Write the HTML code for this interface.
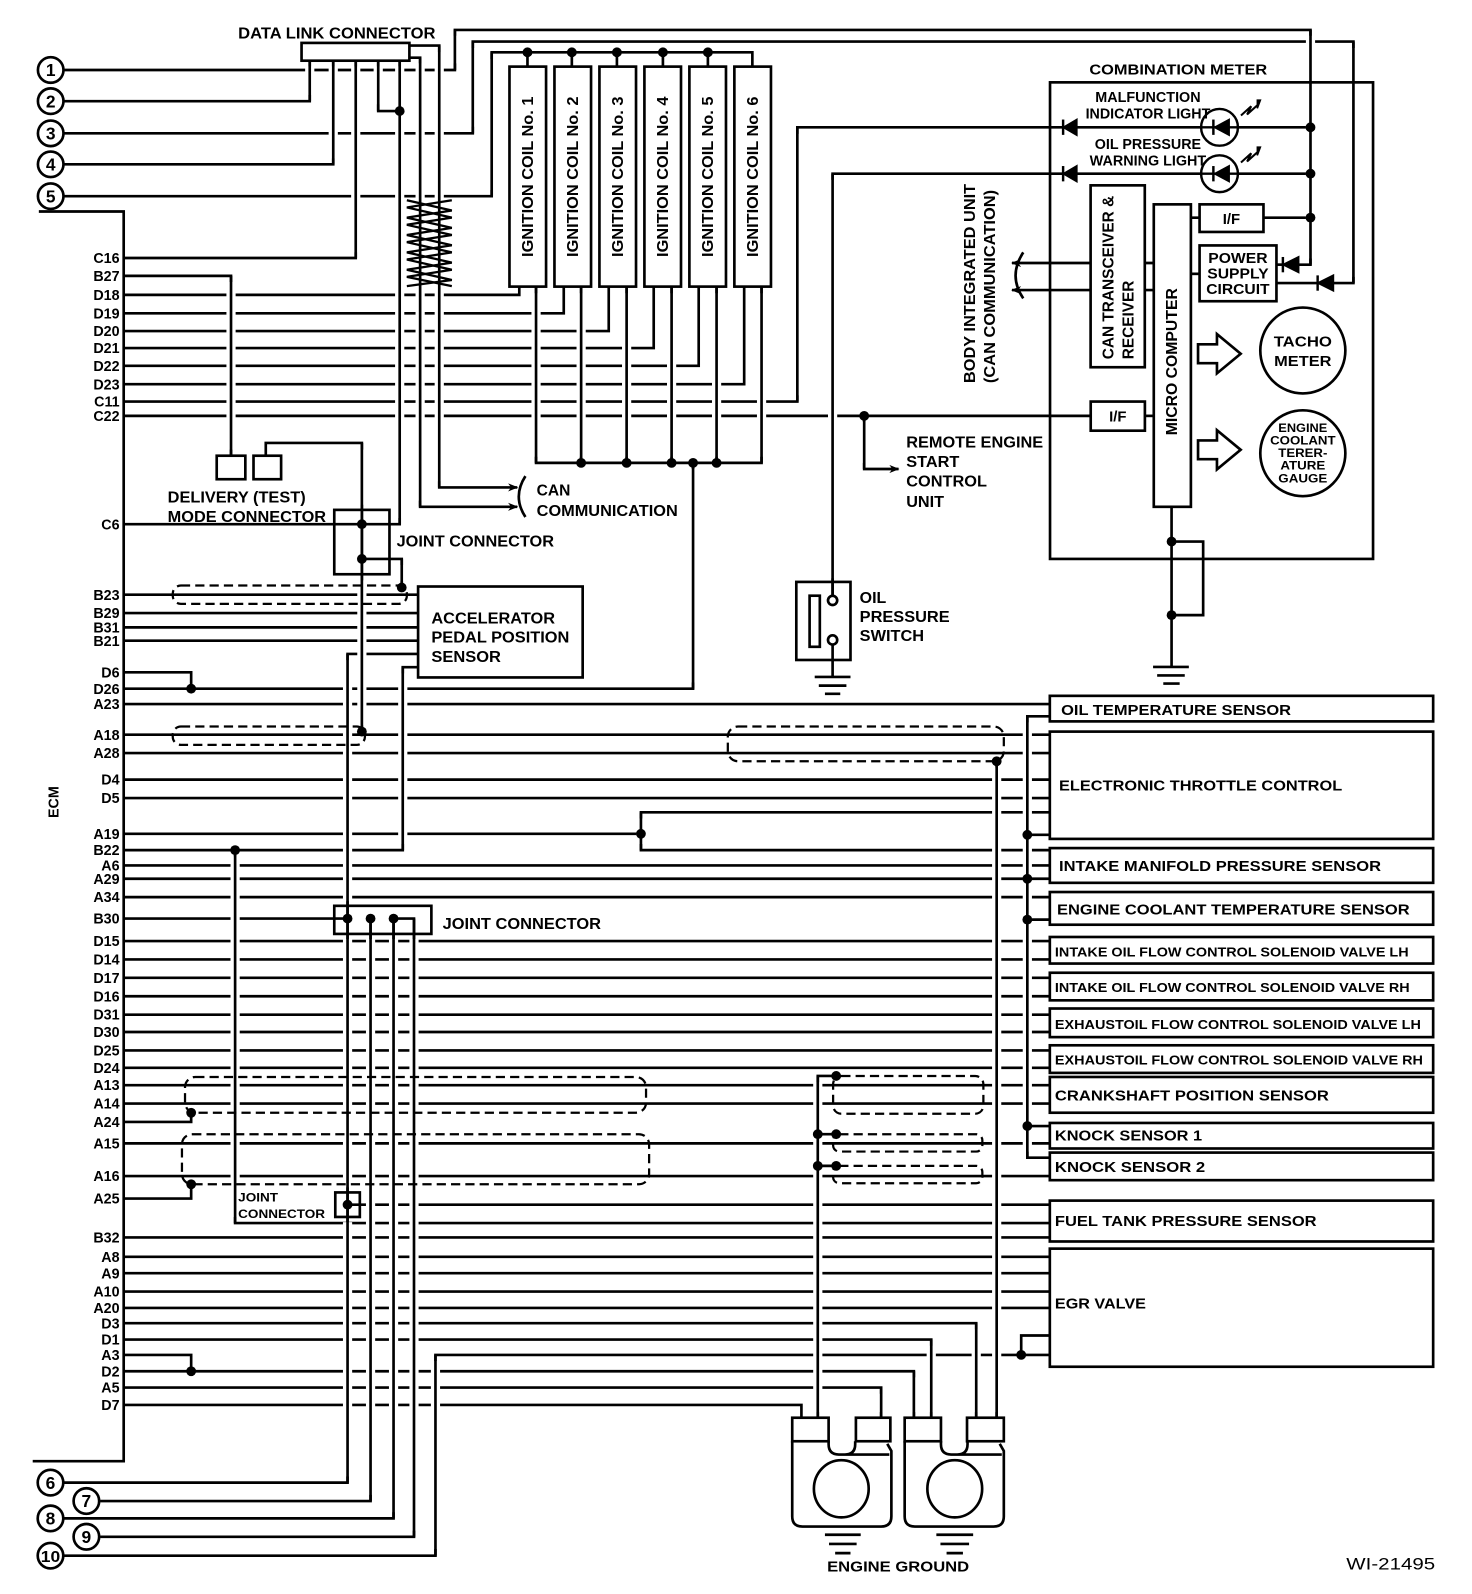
<!DOCTYPE html>
<html><head><meta charset="utf-8"><style>
html,body{margin:0;padding:0;background:#fff;}
svg{display:block;}
text{font-family:"Liberation Sans",Arial,sans-serif;font-weight:bold;fill:#000;}
</style></head><body>
<svg width="1472" height="1594" viewBox="0 0 1440 1560" preserveAspectRatio="none" xmlns="http://www.w3.org/2000/svg">
<rect x="0" y="0" width="1440" height="1560" fill="#fff"/>
<defs>
<marker id="ar" markerWidth="10" markerHeight="8" refX="9" refY="4" orient="auto" markerUnits="userSpaceOnUse"><path d="M0,0 L10,4 L0,8 L3,4 Z" fill="#000"/></marker>
</defs>

<g fill="none" stroke="#000" stroke-width="2.6" stroke-linejoin="miter">
<path d="M38,207 H121 V1430 H32"/>
<path d="M63,68.5 H445 V29.3 H1282 V259 H1270"/>
<path d="M1254.7,259 H1249"/>
<path d="M63,99 H303 V59"/>
<path d="M63,130.5 H462.5 V40.7 H1324 V277 H1304"/>
<path d="M1288.3,277 H1249"/>
<path d="M63,160.8 H326 V59"/>
<path d="M63,192 H481 V51.2 H736 V65"/>
<path d="M516,51.2V65 M559.4,51.2V65 M603.5,51.2V65 M648.5,51.2V65 M692.5,51.2V65"/>
<path d="M370,59 V108.7 H391"/>
<path d="M400.5,44.6 H429.7 V477 H506" marker-end="url(#ar)"/>
<path d="M400.5,56.5 H411 V496 H506" marker-end="url(#ar)"/>
<path d="M121,252.5 H348 V59"/>
<path d="M121,270 H226 V446"/>
<path d="M121,288.6 H508 V280.5"/>
<path d="M121,306.6 H551.5 V280.5"/>
<path d="M121,324 H595.5 V280.5"/>
<path d="M121,340.6 H639.5 V280.5"/>
<path d="M121,358 H683.5 V280.5"/>
<path d="M121,376 H728 V280.5"/>
<path d="M121,393 H780 V124.6 H1040"/>
<path d="M121,407 H1067"/>
<path d="M121,513 H391 V59"/>
<path d="M121,582 H409 M121,600 H409 M121,614 H409 M121,627 H409"/>
<path d="M354,547 H393 V575"/>
<path d="M260,446 V433.5 H354 V716"/>
<path d="M121,658 H187 V674"/>
<path d="M121,674 H678 V453"/>
<path d="M121,689 H1027 M121,719 H1027 M121,737 H1027 M121,763 H1027 M121,781 H1027"/>
<path d="M121,816 H627 M1027,795 H627 V832 H1027"/>
<path d="M121,832 H394 V653 H409"/>
<path d="M230,832 V1197 H1027"/>
<path d="M121,847 H1027 M121,860 H1027 M121,878 H1027"/>
<path d="M121,899 H340"/>
<path d="M121,921 H1027 M121,939 H1027 M121,957 H1027 M121,975 H1027 M121,993 H1027 M121,1010 H1027 M121,1028 H1027 M121,1045 H1027 M121,1062 H1027 M121,1080 H1027"/>
<path d="M121,1098 H187 V1089"/>
<path d="M121,1119 H1027 M121,1151 H1027"/>
<path d="M121,1173 H187 V1159"/>
<path d="M121,1211 H1027 M121,1230 H1027 M121,1246 H1027 M121,1264 H1027 M121,1280 H1027"/>
<path d="M121,1295 H955 V1388"/>
<path d="M121,1311 H911 V1388"/>
<path d="M121,1326 H187 V1342"/>
<path d="M121,1342 H894 V1388"/>
<path d="M121,1358 H862 V1388"/>
<path d="M121,1375 H784 V1388"/>
<path d="M63,1451 H340 V640 H409"/>
<path d="M98,1469 H362.5 V899"/>
<path d="M63,1486 H385 V899"/>
<path d="M98,1504 H405 V899 H385"/>
<path d="M63,1522.5 H426 V1326 H1027"/>
<path d="M999,1326 V1307 H1027"/>
<path d="M340,1179 H1027"/>
<path d="M524.4,280.5 V453 H745 V280.5 M568.5,280.5V453 M613,280.5V453 M657,280.5V453 M701,280.5V453"/>
<path d="M814.5,583 V170 H1040"/>
<path d="M814.5,631 V662"/>
<path d="M845.4,407 V459 H879" marker-end="url(#ar)"/>
<path d="M1053,124.6 H1175 M1211,124.6 H1282"/>
<path d="M1053,170 H1175 M1211,170 H1282"/>
<path d="M1236,213 H1282 M1165,213 H1173.5"/>
<path d="M1165,268 H1173.5"/>
<path d="M1119.9,257.4 H1128.7 M1119.9,283.9 H1128.7"/>
<path d="M1066.9,257.4 H990" marker-end="url(#ar)"/>
<path d="M1066.9,283.9 H990" marker-end="url(#ar)"/>
<path d="M1120,407 H1128.7"/>
<path d="M1146.1,496 V652.7 M1146.1,530 H1177 V602 H1146.1"/>
<path d="M1027,701 H1005 V1133 H1027 M1005,817 H1027 M1005,900 H1027 M1005,1102 H1027"/>
<path d="M975,745 V1388"/>
<path d="M800,1388 V1053 H818"/>
<path d="M800,1110 H818 M800,1141 H818"/>
</g>

<g fill="none" stroke="#fff" stroke-width="9">
<path d="M303,65V93 M326,65V155 M348,65V247 M370,65V102 M391,65V507 M411,62V490 M429.7,51V471 M445,35V62 M462.5,47V124 M481,58V186 M226,276V440 M524.4,287V447 M568.5,287V447 M613,287V447 M657,287V447 M701,287V447 M745,287V447 M780,131V387 M678,459V668 M814.5,176V566 M845.4,413V453 M1282,35V253 M1324,47V271 M354,440V494 M354,568V710 M340,646V882 M340,919V1162 M340,1196V1445 M362.5,919V1463 M385,919V1480 M405,919V1498 M426,1332V1516 M394,659V826 M393,553V569 M230,838V1191 M627,801V826 M1005,707V1127 M975,751V1382 M800,1059V1382 M955,1301V1382 M911,1317V1382 M894,1348V1382 M862,1364V1382"/>
</g>
<g fill="none" stroke="#000" stroke-width="2.6">
<path d="M303,59V99 M326,59V160.8 M348,59V252.5 M370,59V108.7 M391,59V513 M411,56.5V496 M429.7,44.6V477 M445,29.3V68.5 M462.5,40.7V130.5 M481,51.2V192 M226,270V446 M524.4,280.5V453 M568.5,280.5V453 M613,280.5V453 M657,280.5V453 M701,280.5V453 M745,280.5V453 M780,124.6V393 M678,453V674 M814.5,170V583 M845.4,407V459 M1282,29.3V259 M1324,40.7V277 M354,433.5V716 M340,640V1451 M362.5,899V1469 M385,899V1486 M405,899V1504 M426,1326V1522.5 M394,653V832 M393,547V575 M230,832V1197 M627,795V832 M1005,701V1133 M975,745V1388 M800,1053V1388 M955,1295V1388 M911,1311V1388 M894,1342V1388 M862,1358V1388"/>
</g>

<g fill="none" stroke="#000" stroke-width="2.6">
<rect x="295" y="42" width="105.5" height="17.4" fill="#fff"/>
<rect x="498.4" y="65.2" width="35.8" height="215.3" fill="#fff"/>
<rect x="542.4" y="65.2" width="35.8" height="215.3" fill="#fff"/>
<rect x="586.4" y="65.2" width="35.8" height="215.3" fill="#fff"/>
<rect x="630.4" y="65.2" width="35.8" height="215.3" fill="#fff"/>
<rect x="674.4" y="65.2" width="35.8" height="215.3" fill="#fff"/>
<rect x="718.4" y="65.2" width="35.8" height="215.3" fill="#fff"/>
<rect x="212" y="446" width="28" height="23" fill="#fff"/>
<rect x="248" y="446" width="27" height="23" fill="#fff"/>
<rect x="327" y="499" width="54" height="63"/>
<rect x="409" y="574" width="161" height="89" fill="#fff"/>
<rect x="327" y="886.5" width="95" height="27.5"/>
<rect x="328" y="1167" width="24" height="24"/>
<rect x="1027.2" y="80.6" width="316" height="466.4"/>
<rect x="1066.9" y="181.4" width="53" height="178" fill="#fff"/>
<rect x="1128.7" y="200" width="36.3" height="296" fill="#fff"/>
<rect x="1173.5" y="200" width="62.5" height="27" fill="#fff"/>
<rect x="1173.5" y="240.2" width="75.2" height="54.6" fill="#fff"/>
<rect x="1067" y="393" width="53" height="28.5" fill="#fff"/>
<ellipse cx="1274.5" cy="343" rx="41.6" ry="42"/>
<ellipse cx="1274.5" cy="443.6" rx="41.6" ry="42"/>
<path d="M1172,337 H1190.5 V327 L1213.7,346.2 L1190.5,365.4 V355.4 H1172 Z"/>
<path d="M1172,431 H1190.5 V421 L1213.7,440.2 L1190.5,459.4 V449.4 H1172 Z"/>
<rect x="779" y="569.5" width="53" height="76.4"/>
<rect x="792" y="583" width="10" height="50"/>
<circle cx="814.5" cy="587.6" r="4.5" fill="#fff"/>
<circle cx="814.5" cy="626.3" r="4.5" fill="#fff"/>
<rect x="1027" y="681" width="375" height="25"/>
<rect x="1027" y="716" width="375" height="105"/>
<rect x="1027" y="830" width="375" height="34"/>
<rect x="1027" y="873" width="375" height="32"/>
<rect x="1027" y="917" width="375" height="26"/>
<rect x="1027" y="952" width="375" height="27"/>
<rect x="1027" y="987" width="375" height="28"/>
<rect x="1027" y="1023" width="375" height="27"/>
<rect x="1027" y="1054" width="375" height="35"/>
<rect x="1027" y="1099" width="375" height="25"/>
<rect x="1027" y="1128" width="375" height="27"/>
<rect x="1027" y="1175" width="375" height="40"/>
<rect x="1027" y="1222" width="375" height="115.6"/>
<rect x="775" y="1387.5" width="35.6" height="23" fill="#fff"/>
<rect x="837.3" y="1387.5" width="33.7" height="23" fill="#fff"/>
<rect x="885" y="1387.5" width="35.5" height="23" fill="#fff"/>
<rect x="946" y="1387.5" width="36" height="23" fill="#fff"/>
<path d="M775,1410.5 V1484 Q775,1494 785,1494 H862 Q872,1494 872,1484 V1420 L868,1413"/>
<path d="M810.6,1410.5 v3 q0,10 10,10 h6 q10,0 10,-10 v-3 M826,1423.5 H870"/>
<ellipse cx="823" cy="1457" rx="26.8" ry="28"/>
<path d="M885,1410.5 V1484 Q885,1494 895,1494 H972 Q982,1494 982,1484 V1420 L978,1413"/>
<path d="M920.5,1410.5 v3 q0,10 10,10 h6 q10,0 10,-10 v-3 M936,1423.5 H980"/>
<ellipse cx="934" cy="1457" rx="26.8" ry="28"/>
<path d="M807,1502 H842 M811,1511 H838 M817,1520 H832"/>
<path d="M916,1502 H952 M920,1511 H948 M926,1520 H942"/>
<path d="M797,662.5 H832 M801,671 H828 M807,679 H822"/>
<path d="M1128,652.7 H1163 M1132,661 H1159 M1138,669 H1154"/>
<path d="M514,466 Q501,486 514,506"/>
<path d="M1001,247 Q986,270 1001,292"/>
<path d="M442,196 L398,203 L442,213 L398,220 L442,230 L398,237 L442,247 L398,254 L442,264 L398,271 L442,280" stroke-width="2.2"/>
<path d="M398,196 L442,206 L398,213 L442,223 L398,230 L442,240 L398,247 L442,257 L398,264 L442,274 L398,280" stroke-width="2.2"/>
</g>

<g fill="#000" stroke="#000" stroke-width="2.4">
<path d="M1053,117.6 L1041,124.6 L1053,131.6 Z"/><path d="M1040,117 V132" fill="none"/>
<path d="M1053,163 L1041,170 L1053,177 Z"/><path d="M1040,162.5 V177.5" fill="none"/>
<path d="M1270,252 L1256,259 L1270,266 Z"/><path d="M1255,251.5 V266.5" fill="none"/>
<path d="M1304,270 L1290,277 L1304,284 Z"/><path d="M1289,269.5 V284.5" fill="none"/>
<circle cx="1193" cy="124.6" r="18" fill="#fff"/>
<path d="M1202,117.6 L1189,124.6 L1202,131.6 Z"/><path d="M1187,117 V132" fill="none"/>
<path d="M1175,124.6 H1211" fill="none"/>
<circle cx="1193" cy="170" r="18" fill="#fff"/>
<path d="M1202,163 L1189,170 L1202,177 Z"/><path d="M1187,162.5 V177.5" fill="none"/>
<path d="M1175,170 H1211" fill="none"/>
<path d="M1214,113 L1224,104 L1220,112 L1230,103" fill="none" stroke-width="2"/>
<path d="M1230,98 L1233,98 L1230,106 Z" stroke-width="1.5"/>
<path d="M1214,159 L1224,150 L1220,158 L1230,149" fill="none" stroke-width="2"/>
<path d="M1230,144 L1233,144 L1230,152 Z" stroke-width="1.5"/>
</g>

<g fill="none" stroke="#000" stroke-width="2.2" stroke-dasharray="9,5">
<rect x="169" y="573" width="229" height="18" rx="8"/>
<rect x="169" y="711" width="188" height="18" rx="8"/>
<rect x="712" y="711" width="270" height="34" rx="10"/>
<rect x="181" y="1054" width="451" height="35" rx="10"/>
<rect x="178" y="1110" width="457" height="49" rx="10"/>
<rect x="815" y="1053" width="147" height="37" rx="8"/>
<rect x="815" y="1110" width="146" height="17" rx="6"/>
<rect x="815" y="1141" width="146" height="17" rx="6"/>
</g>

<g fill="#000">
<circle cx="391" cy="108.7" r="4.8"/><circle cx="354" cy="513" r="4.8"/><circle cx="354" cy="547" r="4.8"/>
<circle cx="393" cy="575" r="4.8"/><circle cx="354" cy="716" r="4.8"/><circle cx="187" cy="674" r="4.8"/>
<circle cx="627" cy="816" r="4.8"/><circle cx="230" cy="832" r="4.8"/><circle cx="187" cy="1089" r="4.8"/>
<circle cx="187" cy="1159" r="4.8"/><circle cx="187" cy="1342" r="4.8"/><circle cx="340" cy="899" r="4.8"/>
<circle cx="362.5" cy="899" r="4.8"/><circle cx="385" cy="899" r="4.8"/><circle cx="340" cy="1179" r="4.8"/>
<circle cx="516" cy="51.2" r="4.8"/><circle cx="559.4" cy="51.2" r="4.8"/><circle cx="603.5" cy="51.2" r="4.8"/>
<circle cx="648.5" cy="51.2" r="4.8"/><circle cx="692.5" cy="51.2" r="4.8"/>
<circle cx="568.5" cy="453" r="4.8"/><circle cx="613" cy="453" r="4.8"/><circle cx="657" cy="453" r="4.8"/>
<circle cx="678" cy="453" r="4.8"/><circle cx="701" cy="453" r="4.8"/><circle cx="845.4" cy="407" r="4.8"/>
<circle cx="1282" cy="124.6" r="4.8"/><circle cx="1282" cy="170" r="4.8"/><circle cx="1282" cy="213" r="4.8"/>
<circle cx="1146.1" cy="530" r="4.8"/><circle cx="1146.1" cy="602" r="4.8"/>
<circle cx="1005" cy="817" r="4.8"/><circle cx="1005" cy="860" r="4.8"/><circle cx="1005" cy="900" r="4.8"/>
<circle cx="1005" cy="1102" r="4.8"/><circle cx="975" cy="745" r="4.8"/><circle cx="818" cy="1053" r="4.8"/>
<circle cx="800" cy="1110" r="4.8"/><circle cx="818" cy="1110" r="4.8"/><circle cx="800" cy="1141" r="4.8"/>
<circle cx="818" cy="1141" r="4.8"/><circle cx="999" cy="1326" r="4.8"/>
</g>

<g fill="#fff" stroke="#000" stroke-width="2.6">
<circle cx="49.6" cy="68.5" r="12.5"/><circle cx="49.6" cy="99" r="12.5"/><circle cx="49.6" cy="130.5" r="12.5"/>
<circle cx="49.6" cy="160.8" r="12.5"/><circle cx="49.6" cy="192" r="12.5"/>
<circle cx="49.4" cy="1451" r="12.5"/><circle cx="84.5" cy="1469" r="12.5"/><circle cx="49.4" cy="1486" r="12.5"/>
<circle cx="84.5" cy="1504" r="12.5"/><circle cx="49.4" cy="1522.5" r="12.5"/>
</g>
<g font-size="17" text-anchor="middle">
<text x="49.6" y="74.5">1</text><text x="49.6" y="105">2</text><text x="49.6" y="136.5">3</text>
<text x="49.6" y="166.8">4</text><text x="49.6" y="198">5</text>
<text x="49.4" y="1457">6</text><text x="84.5" y="1475">7</text><text x="49.4" y="1492">8</text>
<text x="84.5" y="1510">9</text><text x="49.4" y="1528.5" font-size="15" textLength="19" lengthAdjust="spacingAndGlyphs">10</text>
</g>

<g font-size="14" text-anchor="end">
<text x="117" y="257.5">C16</text><text x="117" y="275">B27</text><text x="117" y="293.6">D18</text>
<text x="117" y="311.6">D19</text><text x="117" y="329">D20</text><text x="117" y="345.6">D21</text>
<text x="117" y="363">D22</text><text x="117" y="381">D23</text><text x="117" y="398">C11</text>
<text x="117" y="412">C22</text><text x="117" y="518">C6</text><text x="117" y="587">B23</text>
<text x="117" y="605">B29</text><text x="117" y="619">B31</text><text x="117" y="632">B21</text>
<text x="117" y="663">D6</text><text x="117" y="679">D26</text><text x="117" y="694">A23</text>
<text x="117" y="724">A18</text><text x="117" y="742">A28</text><text x="117" y="768">D4</text>
<text x="117" y="786">D5</text><text x="117" y="821">A19</text><text x="117" y="837">B22</text>
<text x="117" y="852">A6</text><text x="117" y="865">A29</text><text x="117" y="883">A34</text>
<text x="117" y="904">B30</text><text x="117" y="926">D15</text><text x="117" y="944">D14</text>
<text x="117" y="962">D17</text><text x="117" y="980">D16</text><text x="117" y="998">D31</text>
<text x="117" y="1015">D30</text><text x="117" y="1033">D25</text><text x="117" y="1050">D24</text>
<text x="117" y="1067">A13</text><text x="117" y="1085">A14</text><text x="117" y="1103">A24</text>
<text x="117" y="1124">A15</text><text x="117" y="1156">A16</text><text x="117" y="1178">A25</text>
<text x="117" y="1216">B32</text><text x="117" y="1235">A8</text><text x="117" y="1251">A9</text>
<text x="117" y="1269">A10</text><text x="117" y="1285">A20</text><text x="117" y="1300">D3</text>
<text x="117" y="1316">D1</text><text x="117" y="1331">A3</text><text x="117" y="1347">D2</text>
<text x="117" y="1363">A5</text><text x="117" y="1380">D7</text>
</g>
<text font-size="14" transform="translate(57,785) rotate(-90)" text-anchor="middle">ECM</text>

<g font-size="15" text-anchor="middle">
<text transform="translate(521.5,173) rotate(-90)" textLength="157" lengthAdjust="spacingAndGlyphs">IGNITION COIL No. 1</text>
<text transform="translate(565.5,173) rotate(-90)" textLength="157" lengthAdjust="spacingAndGlyphs">IGNITION COIL No. 2</text>
<text transform="translate(609.5,173) rotate(-90)" textLength="157" lengthAdjust="spacingAndGlyphs">IGNITION COIL No. 3</text>
<text transform="translate(653.5,173) rotate(-90)" textLength="157" lengthAdjust="spacingAndGlyphs">IGNITION COIL No. 4</text>
<text transform="translate(697.5,173) rotate(-90)" textLength="157" lengthAdjust="spacingAndGlyphs">IGNITION COIL No. 5</text>
<text transform="translate(741.5,173) rotate(-90)" textLength="157" lengthAdjust="spacingAndGlyphs">IGNITION COIL No. 6</text>
</g>

<g font-size="15">
<text x="233" y="37.5" textLength="193" lengthAdjust="spacingAndGlyphs">DATA LINK CONNECTOR</text>
<text x="164" y="492" textLength="135" lengthAdjust="spacingAndGlyphs">DELIVERY (TEST)</text>
<text x="164" y="511" textLength="155" lengthAdjust="spacingAndGlyphs">MODE CONNECTOR</text>
<text x="388" y="535" textLength="154" lengthAdjust="spacingAndGlyphs">JOINT CONNECTOR</text>
<text x="422" y="610" textLength="121" lengthAdjust="spacingAndGlyphs">ACCELERATOR</text>
<text x="422" y="629" textLength="135" lengthAdjust="spacingAndGlyphs">PEDAL POSITION</text>
<text x="422" y="648" textLength="68" lengthAdjust="spacingAndGlyphs">SENSOR</text>
<text x="525" y="485" textLength="33" lengthAdjust="spacingAndGlyphs">CAN</text>
<text x="525" y="505" textLength="138" lengthAdjust="spacingAndGlyphs">COMMUNICATION</text>
<text x="433" y="909" textLength="155" lengthAdjust="spacingAndGlyphs">JOINT CONNECTOR</text>
<text x="886.5" y="438" textLength="134" lengthAdjust="spacingAndGlyphs">REMOTE ENGINE</text>
<text x="886.5" y="457" textLength="52" lengthAdjust="spacingAndGlyphs">START</text>
<text x="886.5" y="476" textLength="79" lengthAdjust="spacingAndGlyphs">CONTROL</text>
<text x="886.5" y="496" textLength="37" lengthAdjust="spacingAndGlyphs">UNIT</text>
<text x="841" y="590" textLength="26" lengthAdjust="spacingAndGlyphs">OIL</text>
<text x="841" y="608.5" textLength="88" lengthAdjust="spacingAndGlyphs">PRESSURE</text>
<text x="841" y="627.5" textLength="63" lengthAdjust="spacingAndGlyphs">SWITCH</text>
</g>
<g font-size="12">
<text x="233" y="1176" textLength="39" lengthAdjust="spacingAndGlyphs">JOINT</text>
<text x="233" y="1192" textLength="85" lengthAdjust="spacingAndGlyphs">CONNECTOR</text>
</g>

<g font-size="14" text-anchor="middle">
<text x="1152.7" y="73" textLength="174" lengthAdjust="spacingAndGlyphs">COMBINATION METER</text>
<text x="1123" y="100" textLength="103" lengthAdjust="spacingAndGlyphs">MALFUNCTION</text>
<text x="1123" y="116" textLength="122" lengthAdjust="spacingAndGlyphs">INDICATOR LIGHT</text>
<text x="1123" y="146" textLength="104" lengthAdjust="spacingAndGlyphs">OIL PRESSURE</text>
<text x="1123" y="162" textLength="114" lengthAdjust="spacingAndGlyphs">WARNING LIGHT</text>
<text x="1204.7" y="219" textLength="17" lengthAdjust="spacingAndGlyphs">I/F</text>
<text x="1093.5" y="412.5" textLength="17" lengthAdjust="spacingAndGlyphs">I/F</text>
<text x="1211" y="257.5" textLength="58" lengthAdjust="spacingAndGlyphs">POWER</text>
<text x="1211" y="272.5" textLength="60" lengthAdjust="spacingAndGlyphs">SUPPLY</text>
<text x="1211" y="287.5" textLength="62" lengthAdjust="spacingAndGlyphs">CIRCUIT</text>
<text x="1274.5" y="339" textLength="57" lengthAdjust="spacingAndGlyphs">TACHO</text>
<text x="1274.5" y="358" textLength="56" lengthAdjust="spacingAndGlyphs">METER</text>
</g>
<g font-size="11.5" text-anchor="middle">
<text x="1274.5" y="423" textLength="48" lengthAdjust="spacingAndGlyphs">ENGINE</text>
<text x="1274.5" y="435" textLength="64" lengthAdjust="spacingAndGlyphs">COOLANT</text>
<text x="1274.5" y="447.5" textLength="48" lengthAdjust="spacingAndGlyphs">TERER-</text>
<text x="1274.5" y="459.5" textLength="44" lengthAdjust="spacingAndGlyphs">ATURE</text>
<text x="1274.5" y="472" textLength="48" lengthAdjust="spacingAndGlyphs">GAUGE</text>
</g>
<g font-size="15">
<text transform="translate(953.8,374.9) rotate(-90)" textLength="195" lengthAdjust="spacingAndGlyphs">BODY INTEGRATED UNIT</text>
<text transform="translate(973.5,374.9) rotate(-90)" textLength="189" lengthAdjust="spacingAndGlyphs">(CAN COMMUNICATION)</text>
<text transform="translate(1089.5,351.6) rotate(-90)" textLength="160" lengthAdjust="spacingAndGlyphs">CAN TRANSCEIVER &amp;</text>
<text transform="translate(1109,351.6) rotate(-90)" textLength="77" lengthAdjust="spacingAndGlyphs">RECEIVER</text>
<text transform="translate(1151.5,426) rotate(-90)" textLength="144" lengthAdjust="spacingAndGlyphs">MICRO COMPUTER</text>
</g>

<g font-size="14">
<text x="1038" y="700" textLength="225" lengthAdjust="spacingAndGlyphs">OIL TEMPERATURE SENSOR</text>
<text x="1036" y="773.5" textLength="277" lengthAdjust="spacingAndGlyphs">ELECTRONIC THROTTLE CONTROL</text>
<text x="1036" y="852.5" textLength="315" lengthAdjust="spacingAndGlyphs">INTAKE MANIFOLD PRESSURE SENSOR</text>
<text x="1034" y="895" textLength="345" lengthAdjust="spacingAndGlyphs">ENGINE COOLANT TEMPERATURE SENSOR</text>
<text x="1032" y="936" font-size="13" textLength="346" lengthAdjust="spacingAndGlyphs">INTAKE OIL FLOW CONTROL SOLENOID VALVE LH</text>
<text x="1032" y="971" font-size="13" textLength="347" lengthAdjust="spacingAndGlyphs">INTAKE OIL FLOW CONTROL SOLENOID VALVE RH</text>
<text x="1032" y="1007" font-size="13" textLength="358" lengthAdjust="spacingAndGlyphs">EXHAUSTOIL FLOW CONTROL SOLENOID VALVE LH</text>
<text x="1032" y="1042" font-size="13" textLength="360" lengthAdjust="spacingAndGlyphs">EXHAUSTOIL FLOW CONTROL SOLENOID VALVE RH</text>
<text x="1032" y="1077" textLength="268" lengthAdjust="spacingAndGlyphs">CRANKSHAFT POSITION SENSOR</text>
<text x="1032" y="1116" textLength="144" lengthAdjust="spacingAndGlyphs">KNOCK SENSOR 1</text>
<text x="1032" y="1147" textLength="147" lengthAdjust="spacingAndGlyphs">KNOCK SENSOR 2</text>
<text x="1032" y="1200" textLength="256" lengthAdjust="spacingAndGlyphs">FUEL TANK PRESSURE SENSOR</text>
<text x="1032" y="1280.5" textLength="89" lengthAdjust="spacingAndGlyphs">EGR VALVE</text>
<text x="878.6" y="1538" text-anchor="middle" textLength="139" lengthAdjust="spacingAndGlyphs">ENGINE GROUND</text>
</g>
<text x="1404" y="1536" font-size="16" style="font-weight:normal" text-anchor="end" textLength="87" lengthAdjust="spacingAndGlyphs">WI-21495</text>
</svg>
</body></html>
